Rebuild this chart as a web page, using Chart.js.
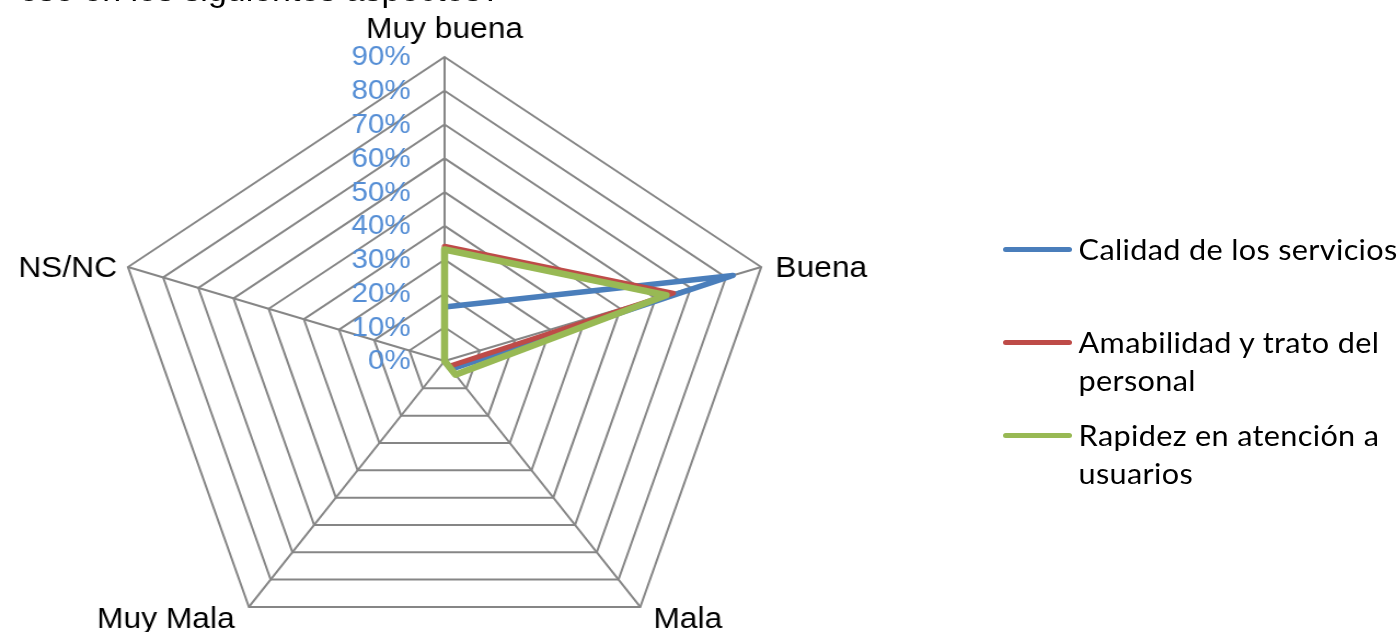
<!DOCTYPE html>
<html>
<head>
<meta charset="utf-8">
<script src="https://cdn.jsdelivr.net/npm/chart.js@4.4.1/dist/chart.umd.min.js"></script>
<style>
    html, body { margin: 0; padding: 0; background: #fff; overflow: hidden; }
    /* the original picture is stretched a little in width, so is this one */
    #wrap { position: relative; width: 1276px; height: 632px; overflow: hidden;
            transform: scaleX(1.095); transform-origin: 0 0; }
    #myChart { position: absolute; left: 0; top: 0; }
    #title { position: absolute; right: 819px; top: -25px; white-space: nowrap;
             font: 31px "Liberation Sans", Arial, sans-serif; line-height: 31px; color: #000; }
    #legend { position: absolute; left: 916px; top: 230px; font: 28px Lato, sans-serif;
              letter-spacing: 0.3px; color: #000; }
    .item { height: 93px; display: flex; align-items: flex-start; }
    .swatch { width: 63px; height: 5px; border-radius: 3px; margin-top: 16.5px; margin-right: 6px; flex: none; }
    .label { width: 300px; line-height: 38px; }
</style>
</head>
<body>
<div id="wrap">
    <div id="title">ese en los siguientes aspectos?</div>
    <canvas id="myChart" width="1276" height="700" style="width:1276px;height:700px"></canvas>
    <div id="legend"></div>
</div>
<script>
// Categories (axes) and series, in percent
const categories = ["Muy buena", "Buena", "Mala", "Muy Mala", "NS/NC"];
const seriesNames = ["Calidad de los servicios", "Amabilidad y trato del personal", "Rapidez en atención a usuarios"];
const calidad = [16, 82, 3, 0, 0];
const amabilidad = [34, 65, 2, 0, 0];
const rapidez = [33, 63, 5, 0, 0];
const tickValues = [0, 10, 20, 30, 40, 50, 60, 70, 80, 90];

const seriesColors = ["#4A7EBB", "#BE4B48", "#98B954"];
const gridColor = "#868686";
const tickColor = "#558ED5";
const axisFont = '"Liberation Sans", Arial, sans-serif';

// Tick labels sit left of the vertical axis, point labels Excel-style
const excelLabels = {
    id: "excelLabels",
    afterDraw(chart) {
        const scale = chart.scales.r;
        const ctx = chart.ctx;
        ctx.save();

        ctx.font = "27px " + axisFont;
        ctx.fillStyle = tickColor;
        ctx.textAlign = "right";
        ctx.textBaseline = "middle";
        scale.ticks.forEach((t) => {
            const d = scale.getDistanceFromCenterForValue(t.value);
            ctx.fillText(t.label, scale.xCenter - 31, scale.yCenter - d + 1);
        });

        ctx.font = "29px " + axisFont;
        ctx.fillStyle = "#000";
        ctx.textBaseline = "alphabetic";
        chart.data.labels.forEach((label, i) => {
            const p = scale.getPointPosition(i, scale.drawingArea);
            const a = scale.getIndexAngle(i);
            const dx = Math.sin(a);
            const dy = -Math.cos(a);
            let x = p.x, y = p.y;
            if (dy < -0.5) {
                ctx.textAlign = "center";
                y -= 19.5;
            } else if (dy < 0.5) {
                ctx.textAlign = dx > 0 ? "left" : "right";
                x += dx > 0 ? 13 : -10;
                y += 10;
            } else {
                ctx.textAlign = dx > 0 ? "left" : "right";
                x += dx > 0 ? 12 : -13;
                y += 21;
            }
            ctx.fillText(label, x, y);
        });
        ctx.restore();
    },
};

const ctx = document.getElementById("myChart");
const seriesData = [calidad, amabilidad, rapidez];
const lineWidths = [5.5, 5, 6.5];

new Chart(ctx, {
    type: "radar",
    data: {
        labels: categories,
        datasets: seriesNames.map((name, i) => ({
            label: name,
            data: seriesData[i],
            borderColor: seriesColors[i],
            backgroundColor: seriesColors[i],
            borderWidth: lineWidths[i],
            borderJoinStyle: "round",
            pointRadius: 0,
            pointHoverRadius: 0,
            fill: false,
            order: 3 - i, // green on top, like the original
        })),
    },
    options: {
        responsive: false,
        animation: false,
        events: [],
        layout: { padding: { left: 102, top: 57, right: 566, bottom: 35 } },
        plugins: {
            legend: { display: false },
            title: { display: false },
            tooltip: { enabled: false },
        },
        scales: {
            r: {
                min: tickValues[0],
                max: tickValues[tickValues.length - 1],
                beginAtZero: true,
                ticks: {
                    stepSize: 10,
                    display: false,
                    callback: (v) => v + "%",
                },
                pointLabels: { display: false },
                grid: { color: gridColor, lineWidth: 2 },
                angleLines: { color: gridColor, lineWidth: 2 },
            },
        },
    },
    plugins: [excelLabels],
});

// Legend as real text, built from the series arrays
const legend = document.getElementById("legend");
seriesNames.forEach((name, i) => {
    const item = document.createElement("div");
    item.className = "item";
    item.innerHTML = '<span class="swatch" style="background:' + seriesColors[i] + '"></span>' +
        '<span class="label">' + name + "</span>";
    legend.appendChild(item);
});
</script>
</body>
</html>
